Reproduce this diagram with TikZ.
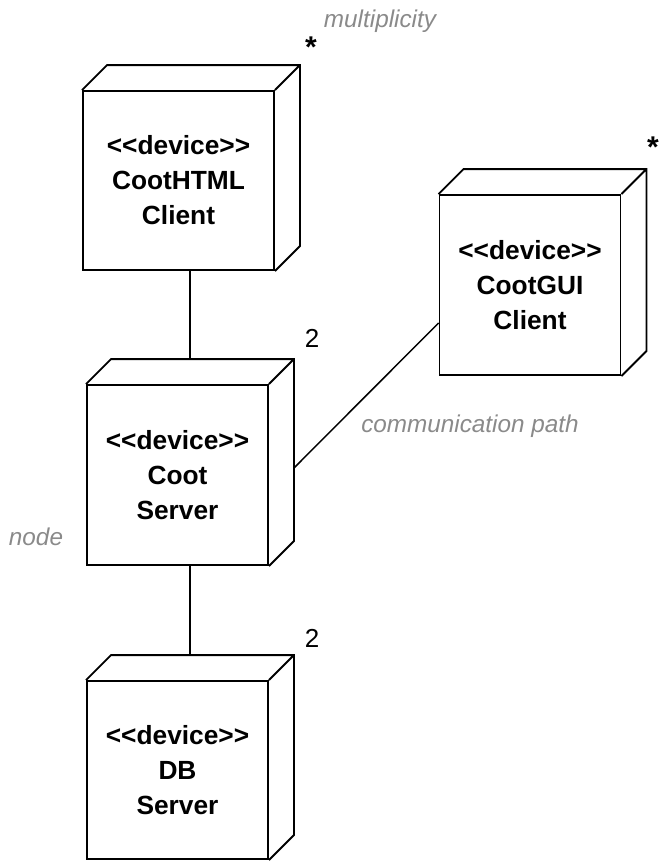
\documentclass[tikz,border=0pt]{standalone}
\usepackage{fontspec}
\setmainfont{Liberation Sans}
\usetikzlibrary{calc}
\definecolor{labgray}{HTML}{8A8A8A}
\newcommand{\stereo}[1]{<\kern0pt<#1>\kern0pt>}
\tikzset{
  devbox/.style={draw, line width=1.9pt, minimum width=181pt, minimum height=180pt,
    inner sep=0pt, align=center, font=\fontsize{26.3}{35}\selectfont\bfseries},
  face/.style={line width=1.9pt, line join=miter},
  conn/.style={line width=1.5pt},
  glabel/.style={text=labgray, font=\fontsize{24.3}{28}\selectfont\itshape, inner sep=0pt},
  mult/.style={font=\fontsize{26}{30}\selectfont, inner sep=0pt},
  star/.style={font=\fontsize{30}{30}\selectfont\bfseries, inner sep=0pt}
}
\begin{document}
\begin{tikzpicture}[x=1pt,y=-1pt]
\useasboundingbox (0,0) rectangle (659,863);
\node[devbox, minimum width=191pt, minimum height=179pt] (html) at (178.5,180.5) {\stereo{device}\\CootHTML\\Client};
\node[devbox] (gui) at (530,285) {\stereo{device}\\CootGUI\\Client};
\node[devbox] (srv) at (177.5,475) {\stereo{device}\\Coot\\Server};
\node[devbox, minimum height=178pt] (db) at (177.5,770) {\stereo{device}\\DB\\Server};
\foreach \n in {html,gui,srv,db}{
  \draw[face] (\n.north west) -- ++(25,-25) -- ($(\n.north east)+(25,-25)$)
     -- ($(\n.south east)+(25,-25)$) -- (\n.south east)
     (\n.north east) -- ++(25,-25);
  \coordinate (\n-top) at ($(\n.north)+(12.5,-25)$);
}
\draw[conn] (html.south -| srv-top) -- (srv-top);
\draw[conn] (srv.south -| db-top) -- (db-top);
\draw[conn] ([xshift=25pt,yshift=7pt]srv.east) -- ([yshift=-38pt]gui.west);
\node[glabel] (lmult) at (380,21) {multiplicity};
\node[glabel] (lcomm) at (470,426) {communication path};
\node[glabel] (lnode) at (36,537) {node};
\node[star] (s1) at (311,47) {*};
\node[star] (s2) at (653,147) {*};
\node[mult] (m1) at (312,338) {2};
\node[mult] (m2) at (312,638) {2};
\end{tikzpicture}
\end{document}
